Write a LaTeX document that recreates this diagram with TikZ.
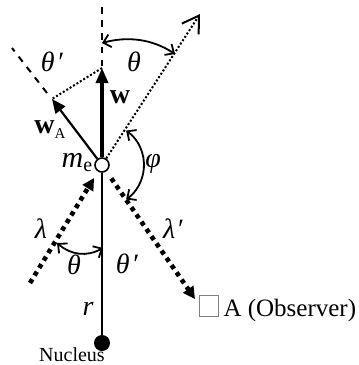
\documentclass[tikz,border=0pt]{standalone}
\usepackage{fontspec}
\setmainfont{Liberation Serif}
\usetikzlibrary{arrows.meta,calc}
\begin{document}
\begin{tikzpicture}[x=0.5pt,y=-0.5pt,
  axis/.style={line width=1pt},
  wvec/.style={line width=1.6pt,-{Triangle[length=7.5pt,width=6pt]}},
  wavec/.style={line width=1.1pt,-{Triangle[length=7pt,width=6pt]}},
  dashln/.style={line width=1pt,dash pattern=on 3.3pt off 3.3pt},
  fine/.style={line width=1pt,dash pattern=on 1pt off 1pt},
  photon/.style={line width=2.3pt,dash pattern=on 2.2pt off 2.2pt},
  angarc/.style={line width=0.9pt,{Straight Barb[length=3.5pt,width=6.5pt]}-{Straight Barb[length=3.5pt,width=6.5pt]}},
  lbl/.style={inner sep=0pt,font=\fontsize{14}{16}\selectfont}]
\useasboundingbox (0,0) rectangle (359,365);
% key points
\coordinate (E) at (102,165);
\coordinate (wtip) at (102,68);
\coordinate (top) at (102,7);
\coordinate (watip) at (52,99);
\coordinate (dstart) at (47,93);
\coordinate (dend) at (12,48);
\coordinate (fwd) at (200,14);
\coordinate (lamstart) at (30,283);
\coordinate (lpend) at (195,299);
\coordinate (lamtip) at ($(lamstart)!0.89!(E)$);
\coordinate (lpstart) at ($(E)!0.1!(lpend)$);
% lines
\draw[dashln] (top) -- (wtip);
\draw[dashln] (dstart) -- (dend);
\draw[fine] (wtip) -- (watip);
\node[circle,fill,inner sep=0pt,minimum size=8pt] (nuc) at (102,343) {};
\node[circle,draw,fill=white,line width=0.8pt,inner sep=0pt,minimum size=7pt] (e) at (E) {};
\draw[axis] (nuc) -- (e);
\draw[wvec] (e) -- (wtip);
\draw[wavec] (e) -- (watip);
\draw[fine,-{Straight Barb[length=8pt,width=10pt,line width=1pt]}] (e) -- (fwd);
\draw[photon,-{Triangle[length=6pt,width=6pt]}] (lamstart) -- (lamtip);
\draw[photon,-{Triangle[length=6pt,width=6pt]}] (lpstart) -- (lpend);
% angle arcs
\draw[angarc] (102,43) .. controls (128,36) and (152,39) .. (175,54);
\draw[angarc] ($(E)+(-55:42)$) arc[start angle=-55,end angle=55,radius=42];
\draw[angarc] (57,243) .. controls (71,255) and (86.5,257) .. (103,248);
% labels
\node[lbl] (thpa) at (52,62) {\textit{θ\kern1pt′}};
\node[lbl] (tha) at (134,62) {\textit{θ}};
\node[lbl] (wl) at (120,97) {\textbf{w}};
\node[lbl] (wal) at (50,130) {\textbf{w}{\fontsize{7.5}{8}\selectfont\raisebox{-2.5pt}{A}}};
\node[lbl,font=\fontsize{15}{17}\selectfont] (mel) at (77,163) {\textit{m}{\fontsize{10}{11}\selectfont\raisebox{-2pt}{e}}};
\node[lbl] (phil) at (153,164) {\textit{φ}};
\node[lbl] (laml) at (41,229) {\textit{λ}};
\node[lbl] (lampl) at (173,229) {\textit{λ\kern0.5pt′}};
\node[lbl] (thb) at (74,265) {\textit{θ}};
\node[lbl] (thpb) at (127,264) {\textit{θ\kern1pt′}};
\node[lbl] (rl) at (88,309) {\textit{r}};
\node[lbl,font=\fontsize{10}{12}\selectfont] (nucl) at (72,355) {Nucleus};
\node[lbl,font=\fontsize{12.5}{14}\selectfont,anchor=base west] (obs) at (199,316)
  {\textcolor{gray}{\fboxsep=0pt\fboxrule=0.5pt\fbox{\rule{0pt}{10pt}\rule{9pt}{0pt}}}\,A (Observer)};
\end{tikzpicture}
\end{document}
